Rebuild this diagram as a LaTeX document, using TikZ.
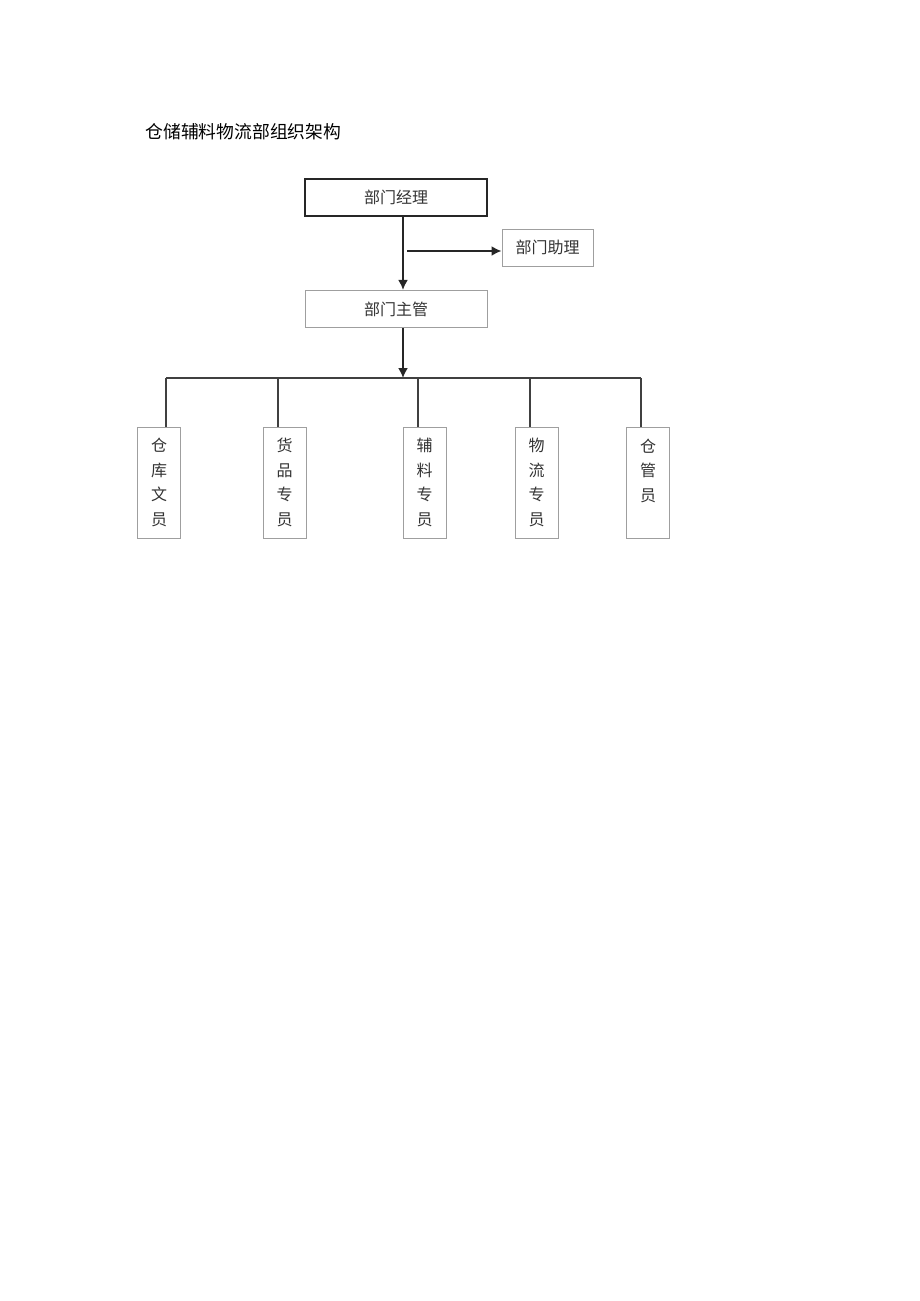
\documentclass[tikz,border=0pt]{standalone}
\usepackage{fontspec}
\setmainfont{Noto Sans CJK SC}
\usetikzlibrary{arrows.meta,positioning}
\tikzset{%
    >={Latex[width=10pt,length=10pt]},
    base/.style = {
        rectangle, draw=gray!75, line width=1pt, inner sep=0pt,
        text=black!80, align=center, font=\fontsize{16}{24.5}\selectfont
    },
    head/.style = {base, draw=black!85, line width=1.8pt, minimum width=182pt, minimum height=37pt},
    office/.style = {base, minimum width=182pt, minimum height=37pt},
    aide/.style = {base, minimum width=91pt, minimum height=37pt},
    staff/.style = {base, minimum width=43pt, minimum height=111pt},
    link/.style = {draw=black!85, line width=1.8pt},
    branch/.style = {draw=black!75, line width=1.4pt},
}

\begin{document}
\begin{tikzpicture}[x=1pt, y=-1pt]
        \useasboundingbox (0,0) rectangle (920,1301);
        % Title
        \node (title) [anchor=west, font=\fontsize{17.8}{20}\selectfont] at (142,132)
                                {仓储辅料物流部组织架构};
        % Nodes position
        \node (boss)          [head] at (396,197.5)
                                {部门经理};
        \node (manager)       [office, below=73pt of boss]
                                {部门主管};
        \node (assist)        [aide] at (547.5,247.5)
                                {部门助理};

        \node (clerk)         [staff] at (159,482.5)
                                {仓\\库\\文\\员};
        \node (goods)         [staff] at (284.5,482.5)
                                {货\\品\\专\\员};
        \node (aux)           [staff] at (424.5,482.5)
                                {辅\\料\\专\\员};
        \node (logis)         [staff] at (536.5,482.5)
                                {物\\流\\专\\员};
        \node (keeper)        [staff] at (648,482.5)
                                {仓\\管\\员\\\mbox{}};

        % Bus points
        \coordinate (split) at (407,251);
        \coordinate (hub)   at (403,378);
        \coordinate (busL)  at (166,378);
        \coordinate (busR)  at (641,378);
        \coordinate (t2)    at (278,378);
        \coordinate (t3)    at (418,378);
        \coordinate (t4)    at (530,378);

        % Arrow specification
        \draw[->, link] ([xshift=7pt]boss.south) -- ([xshift=7pt]manager.north);
        \draw[->, link] (split) -- (split -| assist.west);
        \draw[->, link] ([xshift=7pt]manager.south) -- (hub);
        \draw[branch] (busL) -- (busR);
        \draw[branch] (busL) -- (busL |- clerk.north);
        \draw[branch] (t2) -- (t2 |- goods.north);
        \draw[branch] (t3) -- (t3 |- aux.north);
        \draw[branch] (t4) -- (t4 |- logis.north);
        \draw[branch] (busR) -- (busR |- keeper.north);
    \end{tikzpicture}
\end{document}
